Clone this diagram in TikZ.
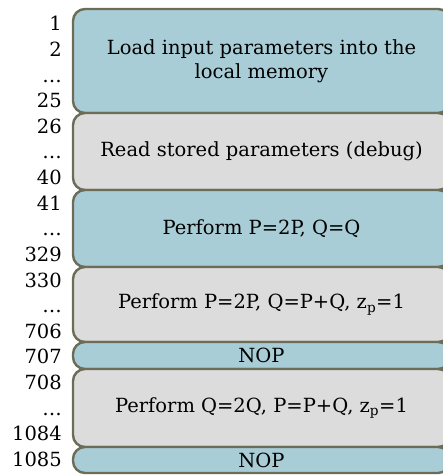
\documentclass[tikz,border=0pt]{standalone}
\usepackage{fontspec}
\setmainfont{DejaVu Serif}
\definecolor{slotblue}{RGB}{168,205,214}
\definecolor{slotgrey}{RGB}{220,220,220}
\definecolor{slotedge}{RGB}{108,108,88}
\tikzset{
  slot/.style={draw=slotedge, line width=2.4bp, rounded corners=12bp,
    minimum width=377bp, inner sep=0pt, align=center, text=black},
  blueslot/.style={slot, fill=slotblue},
  greyslot/.style={slot, fill=slotgrey},
  lineno/.style={anchor=base east, inner sep=0pt, text=black}
}
\begin{document}
\begin{tikzpicture}[x=1bp,y=-1bp]
\useasboundingbox (0,0) rectangle (443,475);
\clip (0,0) rectangle (443,475);
\fontsize{19.5bp}{24bp}\selectfont
% program slots, top to bottom
\node[blueslot, minimum height=104bp] (load) at (261.5,61)
  {Load input parameters into the\\local memory};
\node[greyslot, minimum height=77bp] (read) at (261.5,151.5)
  {Read stored parameters (debug)};
\node[blueslot, minimum height=77bp] (dbl) at (261.5,228.5)
  {Perform P=2P, Q=Q};
\node[greyslot, minimum height=75bp] (stepa) at (261.5,304.5)
  {Perform P=2P, Q=P+Q, z\textsubscript{p}=1};
\node[blueslot, minimum height=27bp] (nopa) at (261.5,355.5) {NOP};
\node[greyslot, minimum height=78bp] (stepb) at (261.5,408)
  {Perform Q=2Q, P=P+Q, z\textsubscript{p}=1};
\node[blueslot, minimum height=26bp] (nopb) at (261.5,460) {NOP};
% instruction addresses
\foreach \k/\t in {0/1,1/2,2/\dots,3/25,4/26,5/\dots,6/40,7/41,8/\dots,9/329,
  10/330,11/\dots,12/706,13/707,14/708,15/\dots,16/1084,17/1085}
  \node[lineno] (addr\k) at (62,{31+25.6*\k}) {\t};
\end{tikzpicture}
\end{document}
